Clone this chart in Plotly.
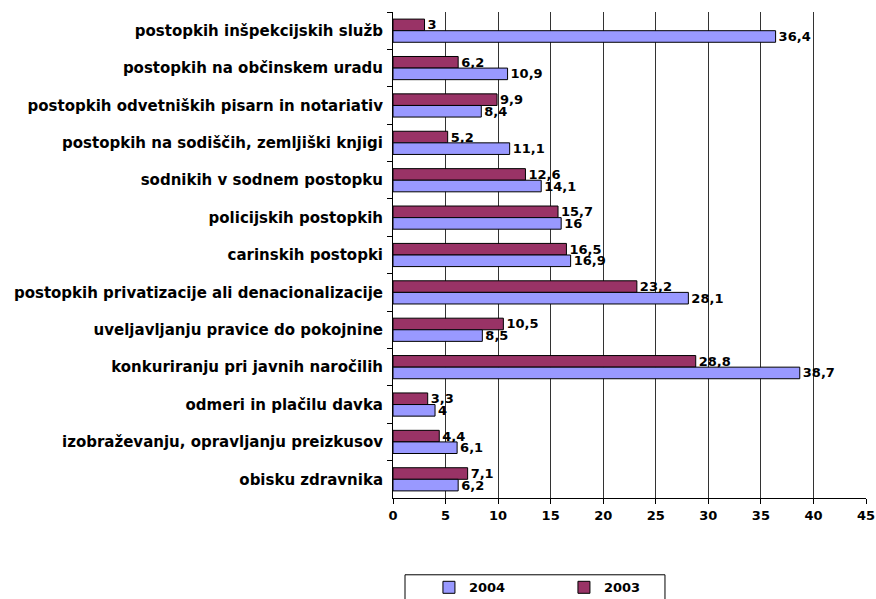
import plotly.graph_objects as go

categories = [
    "postopkih inšpekcijskih služb",
    "postopkih na občinskem uradu",
    "postopkih odvetniških pisarn in notariativ",
    "postopkih na sodiščih, zemljiški knjigi",
    "sodnikih v sodnem postopku",
    "policijskih postopkih",
    "carinskih postopki",
    "postopkih privatizacije ali denacionalizacije",
    "uveljavljanju pravice do pokojnine",
    "konkuriranju pri javnih naročilih",
    "odmeri in plačilu davka",
    "izobraževanju, opravljanju preizkusov",
    "obisku zdravnika",
]
values_2003 = [3, 6.2, 9.9, 5.2, 12.6, 15.7, 16.5, 23.2, 10.5, 28.8, 3.3, 4.4, 7.1]
values_2004 = [36.4, 10.9, 8.4, 11.1, 14.1, 16, 16.9, 28.1, 8.5, 38.7, 4, 6.1, 6.2]
x_ticks = [0, 5, 10, 15, 20, 25, 30, 35, 40, 45]


def comma_label(v):
    return f"{v:g}".replace(".", ",")


def bold_font(size=13):
    return dict(family="DejaVu Sans", size=size, color="black", weight="bold")


fig = go.Figure()
fig.add_trace(
    go.Bar(
        name="2003",
        y=categories,
        x=values_2003,
        orientation="h",
        marker=dict(color="#993366", line=dict(color="black", width=1)),
        text=[comma_label(v) for v in values_2003],
        textposition="outside",
        constraintext="none",
        textfont=bold_font(13),
        cliponaxis=False,
        legendrank=2,
    )
)
fig.add_trace(
    go.Bar(
        name="2004",
        y=categories,
        x=values_2004,
        orientation="h",
        marker=dict(color="#9999FF", line=dict(color="black", width=1)),
        text=[comma_label(v) for v in values_2004],
        textposition="outside",
        constraintext="none",
        textfont=bold_font(13),
        cliponaxis=False,
        legendrank=1,
    )
)

fig.update_layout(
    width=876,
    height=599,
    barmode="group",
    bargap=0.38,
    bargroupgap=0,
    plot_bgcolor="white",
    paper_bgcolor="white",
    font=bold_font(13),
    margin=dict(l=393, r=10, t=12, b=101, autoexpand=False),
    showlegend=True,
    legend=dict(
        orientation="h",
        x=0.076,
        xanchor="left",
        y=-0.153,
        yanchor="top",
        borderwidth=0,
        bgcolor="rgba(0,0,0,0)",
        entrywidth=90,
        font=bold_font(13),
    ),
)
# legend frame, wider than the entries like in the original
fig.add_shape(
    type="rect",
    xref="paper",
    yref="paper",
    x0=0.0254,
    x1=0.575,
    y0=-0.158,
    y1=-0.24,
    line=dict(color="black", width=1),
    fillcolor="rgba(0,0,0,0)",
    layer="below",
)
fig.update_xaxes(
    range=[0, 45],
    tickvals=x_ticks,
    showgrid=True,
    gridcolor="#333333",
    gridwidth=1,
    showline=True,
    linecolor="black",
    ticks="outside",
    ticklen=5,
    tickcolor="black",
    zeroline=False,
    automargin=False,
    tickfont=bold_font(13),
)
fig.update_yaxes(
    autorange="reversed",
    showline=True,
    linecolor="black",
    ticks="outside",
    ticklen=5,
    tickcolor="black",
    tickson="boundaries",
    showgrid=False,
    ticklabelstandoff=6,
    automargin=False,
    tickfont=bold_font(15),
)

# drop the default page margin so the figure fills the window
fig.write_html(
    "out.html",
    config={"displayModeBar": False},
    post_script="document.body.style.margin='0';",
)
